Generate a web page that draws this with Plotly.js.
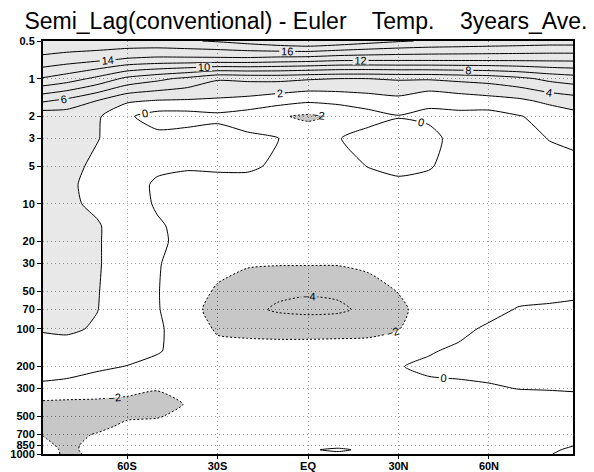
<!DOCTYPE html>
<html>
<head>
<meta charset="utf-8">
<script src="https://cdn.plot.ly/plotly-3.0.1.min.js"></script>
<style>html,body{margin:0;padding:0;background:#fff;}#chart{width:594px;height:472px;}</style>
</head>
<body>
<div id="chart"></div>
<script>
// Latitudes (deg, negative = south) and pressure levels (hPa)
const lats = [-87.86, -80, -70, -60, -50, -40, -30, -20, -10, 0, 10, 20, 30, 40, 50, 60, 70, 80, 87.86];
const levels = [0.5, 0.7, 1, 1.5, 2, 3, 5, 7, 10, 15, 20, 30, 50, 70, 100, 150, 200, 300, 400, 500, 600, 700, 850, 925, 1000];

// Temperature difference (K), one row per pressure level
const p0_5 = [17.5, 17.6, 17.6, 17.5, 17.5, 17.8, 18.2, 18.8, 19.5, 20.0, 19.5, 18.8, 18.2, 17.8, 17.6, 17.4, 17.2, 17.0, 17.0];
const p0_7 = [15.5, 15.0, 14.5, 13.8, 13.5, 13.5, 13.5, 13.5, 13.2, 13.0, 12.6, 12.5, 12.5, 12.5, 12.5, 12.5, 12.5, 12.5, 12.5];
const p1 = [11.8, 11.0, 9.5, 7.5, 6.5, 5.5, 4.2, 4.4, 4.5, 4.2, 4.0, 4.0, 4.2, 4.2, 4.5, 4.8, 5.5, 6.5, 7.0];
const p1_5 = [6.3, 5.5, 4.0, 2.3, 1.9, 1.8, 1.7, 1.4, 0.8, 0.3, 0.6, 1.0, 1.4, 0.3, 0.8, 1.2, 1.6, 2.5, 3.0];
const p2 = [2.6, 2.8, 2.3, 0.3, -0.9, -0.9, -0.5, -1.0, -1.8, -2.3, -1.8, -0.8, -0.1, -0.3, -0.5, -0.8, -0.1, 0.6, 1.3];
const p3 = [3.0, 3.0, 2.1, 1.0, 0.6, 0.9, 1.0, 0.4, 0.05, -1.0, -0.1, 0.8, 1.0, 0.5, -0.6, -0.9, -0.5, 0.05, 0.3];
const p5 = [3.0, 2.6, 1.6, 1.2, 0.4, 0.2, 0.3, 0.3, -0.3, -1.0, -0.6, 0.05, 0.5, 0.15, -0.7, -0.9, -0.8, -0.5, -0.4];
const p7 = [3.0, 2.3, 1.5, 0.9, -0.3, -0.6, -0.6, -0.6, -0.8, -1.0, -0.9, -0.6, -0.4, -0.5, -0.8, -0.9, -0.8, -0.6, -0.5];
const p10 = [3.0, 2.4, 1.6, 0.9, -0.2, -0.8, -0.8, -0.8, -0.9, -1.0, -1.0, -0.9, -0.8, -0.8, -0.8, -0.8, -0.7, -0.6, -0.5];
const p15 = [3.0, 2.6, 2.2, 0.9, 0.2, -0.5, -0.8, -0.9, -1.0, -1.1, -1.1, -1.0, -0.9, -0.8, -0.8, -0.7, -0.7, -0.6, -0.5];
const p20 = [3.0, 2.6, 2.2, 0.9, 0.3, -0.5, -0.9, -1.0, -1.1, -1.2, -1.2, -1.1, -1.0, -0.9, -0.8, -0.7, -0.7, -0.6, -0.5];
const p30 = [3.0, 2.6, 2.2, 0.9, 0.1, -0.6, -1.5, -1.8, -1.85, -1.85, -1.85, -1.7, -1.4, -1.0, -0.8, -0.7, -0.6, -0.6, -0.5];
const p50 = [3.0, 2.6, 2.1, 1.0, 0.1, -1.2, -2.2, -3.0, -3.7, -3.85, -3.7, -2.6, -1.95, -1.2, -0.8, -0.6, -0.5, -0.4, -0.3];
const p70 = [2.8, 2.5, 2.05, 1.0, 0.15, -1.4, -2.6, -3.6, -4.2, -4.4, -4.3, -3.6, -2.3, -1.4, -0.7, -0.4, 0.1, 0.2, 0.3];
const p100 = [2.2, 2.3, 1.8, 1.2, 0.3, -1.0, -2.2, -2.6, -2.9, -2.9, -2.8, -2.6, -2.05, -1.2, -0.3, 0.2, 0.4, 0.5, 0.5];
const p150 = [1.0, 1.2, 1.0, 0.7, 0.15, -0.7, -1.5, -1.2, -1.0, -1.0, -1.0, -1.1, -1.3, -0.1, 0.2, 0.4, 0.5, 0.6, 0.6];
const p200 = [0.6, 0.6, 0.3, -0.05, -0.5, -0.8, -1.0, -1.0, -0.9, -0.9, -0.9, -0.8, -0.05, 0.2, 0.2, 0.3, 0.4, 0.5, 0.5];
const p300 = [-0.3, -0.5, -1.0, -1.7, -1.95, -1.5, -1.2, -1.0, -0.9, -0.8, -0.8, -0.7, -0.6, -0.25, -0.15, -0.1, 0.02, 0.05, 0.1];
const p400 = [-2.5, -2.6, -2.5, -2.3, -2.3, -1.95, -1.5, -1.2, -1.0, -0.9, -0.9, -0.8, -0.8, -0.6, -0.5, -0.5, -0.45, -0.4, -0.4];
const p500 = [-2.8, -2.8, -2.6, -2.2, -2.1, -1.6, -1.3, -1.1, -1.0, -0.9, -0.9, -0.8, -0.8, -0.7, -0.6, -0.5, -0.5, -0.5, -0.5];
const p600 = [-2.6, -2.5, -2.4, -1.7, -1.6, -1.3, -1.2, -1.1, -1.0, -0.9, -0.8, -0.8, -0.7, -0.6, -0.6, -0.5, -0.5, -0.5, -0.5];
const p700 = [-2.05, -2.4, -1.9, -1.4, -1.3, -1.2, -1.1, -1.0, -0.9, -0.8, -0.7, -0.7, -0.6, -0.6, -0.5, -0.5, -0.4, -0.4, -0.4];
const p850 = [-1.7, -2.3, -1.6, -1.2, -1.1, -1.0, -0.9, -0.8, -0.5, -0.3, -0.3, -0.4, -0.5, -0.5, -0.4, -0.4, -0.3, -0.2, -0.05];
const p925 = [-1.6, -2.2, -1.7, -1.1, -1.0, -0.9, -0.8, -0.7, -0.4, -0.1, 0.15, -0.2, -0.4, -0.4, -0.3, -0.3, -0.3, -0.2, 0.2];
const p1000 = [-1.5, -2.2, -1.8, -1.0, -0.9, -0.8, -0.7, -0.6, -0.4, -0.3, -0.2, -0.3, -0.4, -0.4, -0.3, -0.3, -0.2, -0.05, 0.3];

const temp = [p0_5, p0_7, p1, p1_5, p2, p3, p5, p7, p10, p15, p20, p30, p50, p70, p100, p150, p200, p300, p400, p500, p600, p700, p850, p925, p1000];

// Tick labels
const latTicks = [-60, -30, 0, 30, 60];
const latLabels = ['60S', '30S', 'EQ', '30N', '60N'];
const presTicks = [0.5, 1, 2, 3, 5, 10, 20, 30, 50, 70, 100, 200, 300, 500, 700, 850, 1000];
const presLabels = ['0.5', '1', '2', '3', '5', '10', '20', '30', '50', '70', '100', '200', '300', '500', '700', '850', '1000'];

const titleText = 'Semi_Lag(conventional) - Euler\u00a0\u00a0\u00a0 Temp.\u00a0\u00a0\u00a0 3years_Ave.';

const smooth = 0.6;
const labelFont = {family: 'Liberation Sans, Arial, sans-serif', size: 11, color: '#000'};
const black = [[0, '#000000'], [1, '#000000']];

const shade = {
  type: 'contour', x: lats, y: levels, z: temp,
  autocontour: false,
  contours: {start: -2, end: 2, size: 4, coloring: 'fill', showlines: false},
  colorscale: [[0, '#4a4a4a'], [0.33, '#4a4a4a'], [0.33, '#ffffff'], [0.67, '#ffffff'], [0.67, '#b4b4b4'], [1, '#b4b4b4']],
  opacity: 0.3,
  line: {width: 0, smoothing: smooth},
  showscale: false, hoverinfo: 'skip'
};

const posLines = {
  type: 'contour', x: lats, y: levels, z: temp,
  autocontour: false,
  contours: {start: 0, end: 20, size: 2, coloring: 'lines', showlabels: true, labelfont: labelFont},
  colorscale: black,
  line: {width: 1, smoothing: smooth},
  showscale: false, hoverinfo: 'skip'
};

const negLines = {
  type: 'contour', x: lats, y: levels, z: temp,
  autocontour: false,
  contours: {start: -6, end: -2, size: 2, coloring: 'lines', showlabels: true, labelfont: labelFont},
  colorscale: black,
  line: {width: 1, dash: '2px,2px', smoothing: smooth},
  showscale: false, hoverinfo: 'skip'
};

const tickFont = {family: 'Liberation Sans, Arial, sans-serif', size: 11, color: '#000', weight: 'bold'};

const layout = {
  width: 594, height: 472,
  margin: {l: 43, r: 21, t: 41, b: 18, pad: 0},
  paper_bgcolor: '#ffffff', plot_bgcolor: '#ffffff',
  showlegend: false,
  title: {
    text: titleText,
    font: {family: 'Liberation Sans, Arial, sans-serif', size: 23, color: '#000'},
    x: 0.496, xanchor: 'center', xref: 'paper',
    y: 1 - 21 / 472, yanchor: 'middle', yref: 'container'
  },
  xaxis: {
    range: [-87.86, 87.86], tickmode: 'array', tickvals: latTicks, ticktext: latLabels,
    showgrid: true, gridcolor: '#7a7a7a', griddash: '1px,3px', gridwidth: 1,
    ticks: 'outside', ticklen: 3, tickwidth: 1, tickcolor: '#000', ticklabelstandoff: -2,
    showline: true, linecolor: '#000', linewidth: 2, mirror: true,
    zeroline: false, tickfont: tickFont, fixedrange: true
  },
  yaxis: {
    type: 'log', range: [Math.log10(1000), Math.log10(0.5)],
    tickmode: 'array', tickvals: presTicks, ticktext: presLabels,
    showgrid: true, gridcolor: '#7a7a7a', griddash: '1px,3px', gridwidth: 1,
    ticks: 'outside', ticklen: 4, tickwidth: 1, tickcolor: '#000',
    showline: true, linecolor: '#000', linewidth: 2, mirror: true,
    zeroline: false, tickfont: tickFont, fixedrange: true
  }
};

Plotly.newPlot('chart', [shade, posLines, negLines], layout, {staticPlot: true, displayModeBar: false});
</script>
</body>
</html>
